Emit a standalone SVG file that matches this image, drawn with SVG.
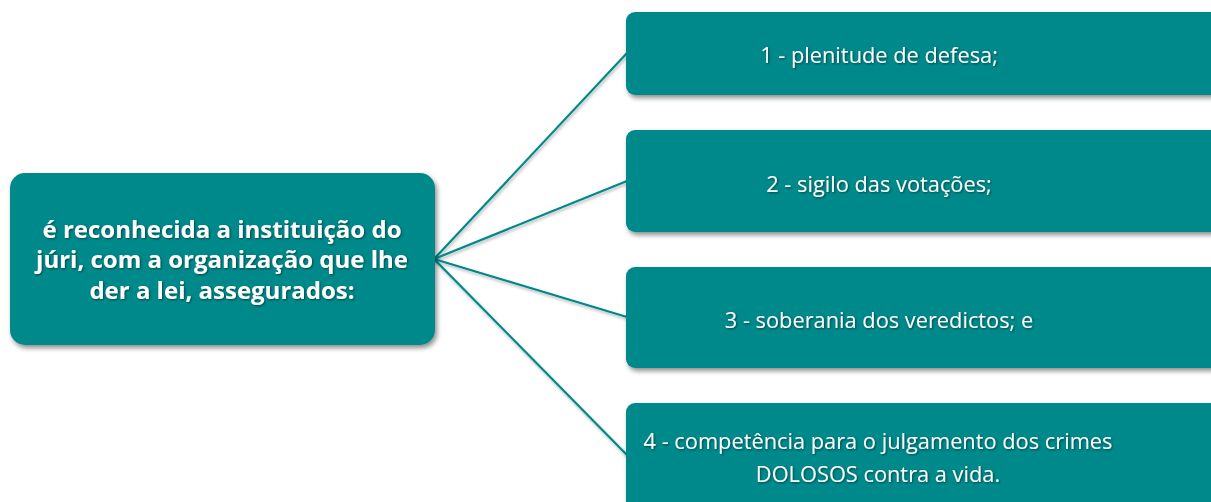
<svg xmlns="http://www.w3.org/2000/svg" width="1211" height="502" viewBox="0 0 1211 502">
<style>
.node{fill:#02898A;filter:url(#sh);}
.conn{stroke:#02898A;stroke-width:2.2;fill:none;filter:url(#lsh);}
.t{fill:#fff;font-family:"Open Sans","Noto Sans",sans-serif;text-anchor:middle;filter:url(#tsh);}
.tb{font-weight:bold;font-size:24px;}
.tr{font-size:21.8px;}
</style>
<defs>
<filter id="sh" x="-10%" y="-20%" width="130%" height="150%">
<feDropShadow dx="2" dy="3" stdDeviation="2.5" flood-color="#000" flood-opacity="0.45"/>
</filter>
<filter id="lsh" x="-10%" y="-10%" width="130%" height="130%">
<feDropShadow dx="1" dy="2" stdDeviation="1.5" flood-color="#000" flood-opacity="0.3"/>
</filter>
<filter id="tsh" x="-10%" y="-30%" width="120%" height="160%">
<feDropShadow dx="1" dy="1" stdDeviation="1" flood-color="#000" flood-opacity="0.5"/>
</filter>
</defs>
<g id="connectors">
<line class="conn" x1="434" y1="259" x2="627" y2="53"/>
<line class="conn" x1="434" y1="259" x2="627" y2="181"/>
<line class="conn" x1="434" y1="259" x2="627" y2="317"/>
<line class="conn" x1="434" y1="259" x2="627" y2="455"/>
</g>
<g id="root">
<rect class="node" x="10" y="173" width="425" height="172" rx="15"/>
<text class="t tb" x="222" y="238">é reconhecida a instituição do</text>
<text class="t tb" x="222" y="268">júri, com a organização que lhe</text>
<text class="t tb" x="222" y="299">der a lei, assegurados:</text>
</g>
<g id="n1">
<rect class="node" x="626" y="12" width="620" height="83" rx="9"/>
<text class="t tr" x="879" y="63">1 - plenitude de defesa;</text>
</g>
<g id="n2">
<rect class="node" x="626" y="130" width="620" height="102" rx="9"/>
<text class="t tr" x="879" y="192">2 - sigilo das votações;</text>
</g>
<g id="n3">
<rect class="node" x="626" y="267" width="620" height="101" rx="9"/>
<text class="t tr" x="879" y="328">3 - soberania dos veredictos; e</text>
</g>
<g id="n4">
<rect class="node" x="626" y="403" width="620" height="110" rx="9"/>
<text class="t tr" x="878" y="449">4 - competência para o julgamento dos crimes</text>
<text class="t tr" x="878" y="482">DOLOSOS contra a vida.</text>
</g>
</svg>
